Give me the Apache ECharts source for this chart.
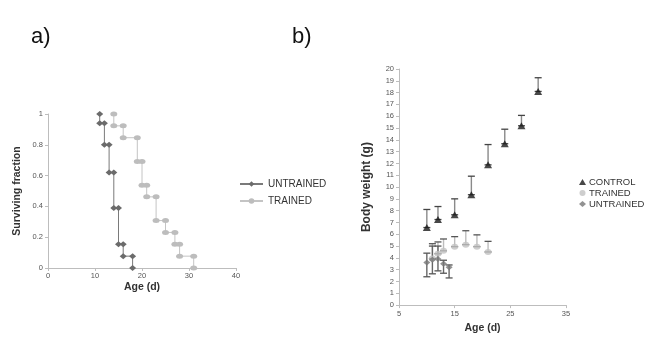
<!DOCTYPE html>
<html>
<head>
<meta charset="utf-8">
<script src="https://cdn.jsdelivr.net/npm/echarts@6/dist/echarts.min.js"></script>
<style>
  html, body { margin: 0; padding: 0; background: #fff; }
  #chart { width: 655px; height: 339px; }
</style>
</head>
<body>
<div id="chart"></div>
<script>
// a) survival (Kaplan-Meier steps)
const untrainedDeathDays = [11, 12, 13, 14, 15, 16, 18];
const untrainedLevels = [1, 0.94, 0.8, 0.62, 0.39, 0.155, 0.077, 0];
const trainedDeathDays = [14, 16, 19, 20, 21, 23, 25, 27, 28, 31];
const trainedLevels = [1, 0.923, 0.846, 0.692, 0.538, 0.462, 0.308, 0.231, 0.154, 0.077, 0];

// b) body weight (mean + error bar ends)
const controlAge = [10, 12, 15, 18, 21, 24, 27, 30];
const controlMean = [6.57, 7.25, 7.65, 9.35, 11.88, 13.67, 15.19, 18.1];
const controlHigh = [8.1, 8.35, 9.0, 10.92, 13.6, 14.9, 16.07, 19.26];

const trainedAge = [11, 12, 13, 15, 17, 19, 21];
const trainedMean = [3.95, 4.35, 4.6, 4.95, 5.12, 4.95, 4.5];
const trainedHigh = [5.2, 5.35, 5.6, 5.8, 6.3, 5.95, 5.4];

const untrainedAge = [10, 11, 12, 13, 14];
const untrainedMean = [3.6, 3.85, 3.9, 3.5, 3.2];
const untrainedLow = [2.4, 2.65, 2.9, 2.7, 2.3];
const untrainedHigh = [4.4, 5.0, 5.0, 3.8, 3.4];

// step points: each death day gets the level before and after
function stepPoints(days, levels) {
  const pts = [];
  days.forEach((d, i) => {
    pts.push([d, levels[i]]);
    pts.push([d, levels[i + 1]]);
  });
  return pts;
}

function errBars(xs, lows, highs) {
  return xs.map((x, i) => [x, lows[i], highs[i]]);
}

const barRender = (stemColor, capColor) => (params, api) => {
  const top = api.coord([api.value(0), api.value(2)]);
  const bot = api.coord([api.value(0), api.value(1)]);
  const w = 3.5;
  return {
    type: 'group',
    children: [
      { type: 'line', shape: { x1: top[0], y1: top[1], x2: bot[0], y2: bot[1] },
        style: { stroke: stemColor, lineWidth: 1.4 } },
      { type: 'line', shape: { x1: top[0] - w, y1: top[1], x2: top[0] + w, y2: top[1] },
        style: { stroke: capColor, lineWidth: 1.3 } },
      { type: 'line', shape: { x1: bot[0] - w, y1: bot[1], x2: bot[0] + w, y2: bot[1] },
        style: { stroke: capColor, lineWidth: 1.3 } }
    ]
  };
};

const axisGrey = '#bdbdbd';
const labelStyle = { color: '#555', fontSize: 7.5, fontFamily: 'Arial' };
const nameStyle = { color: '#333', fontSize: 10.5, fontWeight: 'bold', fontFamily: 'Arial' };

const chart = echarts.init(document.getElementById('chart'));
chart.setOption({
  animation: false,
  backgroundColor: '#fff',
  graphic: [
    { type: 'text', left: 31, top: 26, style: { text: 'a)', fontSize: 22, fill: '#111', fontFamily: 'Arial' } },
    { type: 'text', left: 292, top: 26, style: { text: 'b)', fontSize: 22, fill: '#111', fontFamily: 'Arial' } }
  ],
  grid: [
    { left: 48, right: 419, top: 114, bottom: 71 },
    { left: 399, right: 89, top: 69, bottom: 28 }
  ],
  legend: [
    {
      data: ['UNTRAINED', 'TRAINED'],
      orient: 'vertical', left: 239, top: 179, padding: 0,
      itemWidth: 23, itemHeight: 7, itemGap: 7,
      textStyle: { color: '#333', fontSize: 10, fontFamily: 'Arial' }
    },
    {
      data: ['CONTROL', 'TRAINED ', 'UNTRAINED '],
      orient: 'vertical', left: 579, top: 177, padding: 0,
      itemWidth: 7, itemHeight: 6, itemGap: 1,
      textStyle: { color: '#333', fontSize: 9.5, fontFamily: 'Arial', padding: [0, 0, 0, -2] }
    }
  ],
  xAxis: [
    {
      gridIndex: 0, type: 'value', min: 0, max: 40, interval: 10,
      name: 'Age (d)', nameLocation: 'middle', nameGap: 14, nameTextStyle: nameStyle,
      axisLine: { lineStyle: { color: axisGrey } },
      axisTick: { show: true, length: 3, lineStyle: { color: axisGrey } },
      axisLabel: Object.assign({ margin: 4 }, labelStyle),
      splitLine: { show: false }
    },
    {
      gridIndex: 1, type: 'value', min: 5, max: 35, interval: 10,
      name: 'Age (d)', nameLocation: 'middle', nameGap: 12, nameTextStyle: nameStyle,
      axisLine: { lineStyle: { color: axisGrey } },
      axisTick: { show: true, length: 3, lineStyle: { color: axisGrey } },
      axisLabel: Object.assign({ margin: 5 }, labelStyle),
      splitLine: { show: false }
    }
  ],
  yAxis: [
    {
      gridIndex: 0, type: 'value', min: 0, max: 1, interval: 0.2,
      name: 'Surviving fraction', nameLocation: 'middle', nameGap: 25, nameTextStyle: nameStyle,
      axisLine: { show: true, lineStyle: { color: axisGrey } },
      axisTick: { show: true, length: 3, lineStyle: { color: axisGrey } },
      axisLabel: Object.assign({ margin: 5 }, labelStyle),
      splitLine: { show: false }
    },
    {
      gridIndex: 1, type: 'value', min: 0, max: 20, interval: 1,
      name: 'Body weight (g)', nameLocation: 'middle', nameGap: 26, nameTextStyle: Object.assign({}, nameStyle, { fontSize: 12 }),
      axisLine: { show: true, lineStyle: { color: axisGrey } },
      axisTick: { show: true, length: 3, lineStyle: { color: axisGrey } },
      axisLabel: Object.assign({ margin: 5 }, labelStyle),
      splitLine: { show: false }
    }
  ],
  series: [
    {
      name: 'UNTRAINED', type: 'line', xAxisIndex: 0, yAxisIndex: 0,
      data: stepPoints(untrainedDeathDays, untrainedLevels),
      symbol: 'diamond', symbolSize: [7, 6],
      lineStyle: { color: '#7a7a7a', width: 1 },
      itemStyle: { color: '#6b6b6b' }, z: 3
    },
    {
      name: 'TRAINED', type: 'line', xAxisIndex: 0, yAxisIndex: 0,
      data: stepPoints(trainedDeathDays, trainedLevels),
      symbol: 'circle', symbolSize: [7, 5],
      lineStyle: { color: '#c4c4c4', width: 1 },
      itemStyle: { color: '#bdbdbd' }, z: 2
    },
    {
      type: 'custom', xAxisIndex: 1, yAxisIndex: 1,
      renderItem: barRender('#8a8a8a', '#444'),
      data: errBars(controlAge, controlMean, controlHigh), z: 1
    },
    {
      type: 'custom', xAxisIndex: 1, yAxisIndex: 1,
      renderItem: barRender('#bdbdbd', '#555'),
      data: errBars(trainedAge, trainedMean, trainedHigh), z: 1
    },
    {
      type: 'custom', xAxisIndex: 1, yAxisIndex: 1,
      renderItem: barRender('#666', '#555'),
      data: errBars(untrainedAge, untrainedLow, untrainedHigh), z: 1
    },
    {
      name: 'CONTROL', type: 'scatter', xAxisIndex: 1, yAxisIndex: 1,
      data: controlAge.map((x, i) => [x, controlMean[i]]),
      symbol: 'triangle', symbolSize: [8, 7],
      itemStyle: { color: '#1a1a1a' }, z: 4
    },
    {
      name: 'TRAINED ', type: 'scatter', xAxisIndex: 1, yAxisIndex: 1,
      data: trainedAge.map((x, i) => [x, trainedMean[i]]),
      symbol: 'circle', symbolSize: [7, 6],
      itemStyle: { color: '#c2c2c2' }, z: 4
    },
    {
      name: 'UNTRAINED ', type: 'scatter', xAxisIndex: 1, yAxisIndex: 1,
      data: untrainedAge.map((x, i) => [x, untrainedMean[i]]),
      symbol: 'diamond', symbolSize: [7, 6],
      itemStyle: { color: '#777' }, z: 5
    }
  ]
});
</script>
</body>
</html>
